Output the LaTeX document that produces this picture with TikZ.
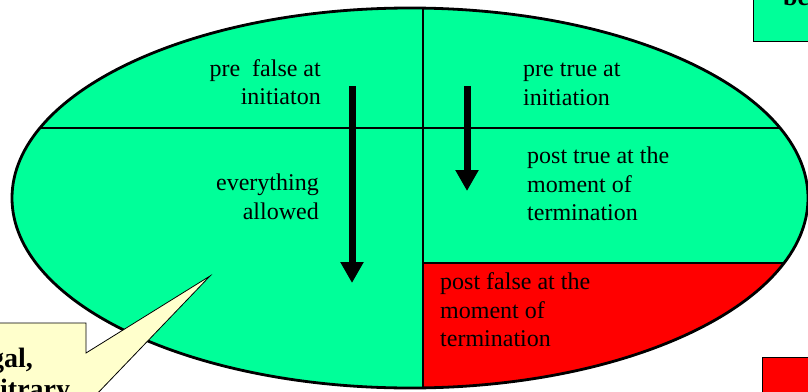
\documentclass[tikz,border=0pt]{standalone}
\usepackage{fontspec}
\setmainfont{Liberation Serif}
\usetikzlibrary{arrows.meta}
\definecolor{mint}{RGB}{0,255,153}
\definecolor{noteyellow}{RGB}{255,255,204}
\begin{document}
\begin{tikzpicture}[x=1pt,y=-1pt,
  lbl/.style={inner sep=0pt, font=\fontsize{24}{28.5}\selectfont, execute at begin node=\strut},
  notetext/.style={inner sep=0pt, anchor=base west, font=\bfseries\fontsize{28}{32}\selectfont},
  divider/.style={line width=1.1pt, black},
  bigarrow/.style={line width=7pt, -{Triangle[width=22pt,length=21pt]}},
  rim/.style={line width=2.8pt, black},
  box/.style={line width=1pt, draw=black}]
\useasboundingbox (0,0) rectangle (808,391);
\clip (0,0) rectangle (808,391);

% ellipse body
\fill[mint] (410,198) ellipse [x radius=398, y radius=190];
\begin{scope}
  \clip (410,198) ellipse [x radius=398, y radius=190];
  \fill[red] (423,263) rectangle (830,400);
  \draw[divider] (0,128) -- (830,128);
  \draw[divider] (423,0) -- (423,400);
  \draw[divider] (423,263) -- (830,263);
\end{scope}
\draw[rim] (410,198) ellipse [x radius=398, y radius=190];

% texts
\node[lbl, anchor=north east, align=right] (prefalse) at (321,59) {pre~~false at\\initiaton};
\node[lbl, anchor=north west, align=left] (pretrue) at (523,63) {pre true at\\initiation};
\node[lbl, anchor=north east, align=right] (everything) at (319,174) {everything\\allowed};
\node[lbl, anchor=north west, align=left] (posttrue) at (527,147) {post true at the\\moment of\\termination};
\node[lbl, anchor=north west, align=left] (postfalse) at (440,272.5) {post false at the\\moment of\\termination};

% arrows
\coordinate (longtop) at (352,86);
\coordinate (longtip) at (352,283);
\coordinate (shorttop) at (467,86);
\coordinate (shorttip) at (467,191);
\draw[bigarrow] (longtop) -- (longtip);
\draw[bigarrow] (shorttop) -- (shorttip);

% callout
\draw[fill=noteyellow, line width=0.8pt] (-5,323) -- (86,323) -- (86,353) -- (210,276) -- (94,397) -- (-5,397) -- cycle;
\node[notetext] (note1) at (-10,367) {gal,};
\node[notetext] (note2) at (0,398) {itrary};

% top-right box
\draw[box, fill=mint] (753,41) rectangle (830,-10);
\node[inner sep=0pt, anchor=base west, font=\bfseries\fontsize{26}{30}\selectfont] (topnote) at (783,5) {be};

% bottom-right box
\draw[box, fill=red] (762,357) rectangle (830,400);
\end{tikzpicture}
\end{document}
